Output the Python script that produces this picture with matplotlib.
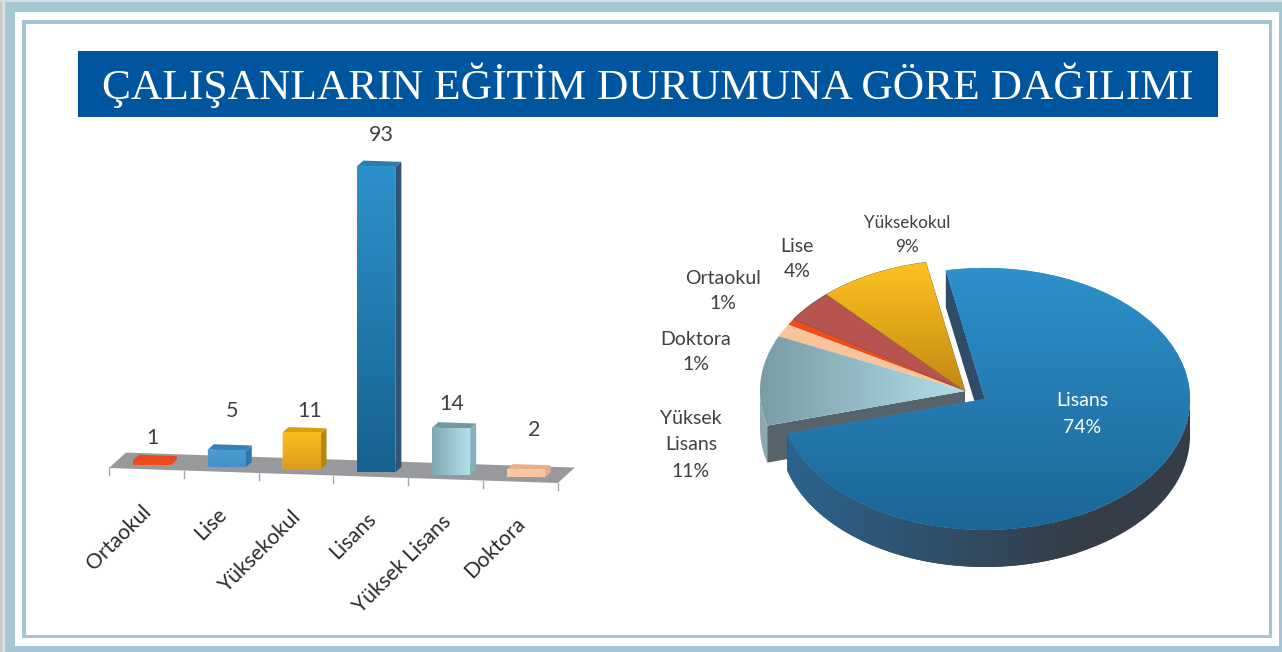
#!/usr/bin/env python3
import numpy as np
import matplotlib
matplotlib.use("Agg")
import matplotlib.pyplot as plt
from matplotlib.colors import LinearSegmentedColormap
from matplotlib.patches import Polygon, Rectangle
from matplotlib.transforms import Affine2D

W, H = 1282, 652

title = "ÇALIŞANLARIN EĞİTİM DURUMUNA GÖRE DAĞILIMI"
categories = ["Ortaokul", "Lise", "Yüksekokul", "Lisans", "Yüksek Lisans", "Doktora"]
counts = [1, 5, 11, 93, 14, 2]
pie_texts = ["Ortaokul\n1%", "Lise\n4%", "Yüksekokul\n9%", "Lisans\n74%",
             "Yüksek\nLisans\n11%", "Doktora\n1%"]

FONT = "Lato"
TEXT = "#404040"
BAND = "#a5c6d3"

# front gradient (start, end, direction), top face, side face
bar_styles = [
    ("#f04c1c", "#f04c1c", "v", "#e8481e", "#e8481e"),
    ("#4f9fd4", "#4090c6", "v", "#3680b5", "#2f78ad"),
    ("#ffc821", "#d8941a", "v", "#d8a010", "#b8860f"),
    ("#2f93cf", "#15608f", "v", "#2b7cb0", "#2f5573"),
    ("#7fa8b2", "#b2e0ea", "h", "#6f9aa5", "#86b1bc"),
    ("#fbc6a0", "#fbc6a0", "v", "#e8b088", "#e5ae86"),
]
# nudges of the value labels from the bar top, in pixels
label_dx = [0, 5, 8, 5, 1, 8]
label_dy = [23, 39, 22, 32, 24, 40]

pie_colors = ["#f04c1c", "#b85450", "#ffc41f", "#2f92cf", "#b5e1ec", "#f9c49c"]
pie_label_xy = [(723, 291), (797, 259), (907, 235), (1082, 414), (691, 445), (696, 352)]
pie_label_size = [14, 14, 12.3, 14, 14, 14]
pie_label_spacing = [1.6, 1.6, 1.55, 1.65, 1.65, 1.6]


def pixel_axes(fig, left, top, right, bottom):
    ax = fig.add_axes([left / W, 1 - bottom / H, (right - left) / W, (bottom - top) / H])
    ax.axis("off")
    return ax


def gradient(ax, extent, c0, c1, direction, clip, zorder):
    cmap = LinearSegmentedColormap.from_list("g", [c0, c1])
    ramp = np.linspace(0, 1, 128)
    ramp = ramp[:, None] if direction == "v" else ramp[None, :]
    # extent is x0, x1, bottom, top with row 0 at the top, so c0 is the top or left end
    im = ax.imshow(ramp, cmap=cmap, extent=extent, origin="upper", aspect="auto",
                   zorder=zorder, interpolation="bilinear")
    im.set_clip_path(clip)
    return im


def draw_frame(fig):
    ax = pixel_axes(fig, 0, 0, W, H)
    ax.set_xlim(0, W)
    ax.set_ylim(H, 0)
    shade = LinearSegmentedColormap.from_list("s", ["#c4c4c4", "#e6e6e6"])
    ax.imshow(np.linspace(0, 1, 32)[None, :], cmap=shade, extent=(0, 5, H, 0), aspect="auto")
    ax.add_patch(Rectangle((0, 0), W, 2, color="#d5dde0", lw=0))
    # outer band, white gap, inner line, white page
    ax.add_patch(Rectangle((5, 2), W - 5, H - 2, color=BAND, lw=0))
    ax.add_patch(Rectangle((15, 12), 1264, 634, color="white", lw=0))
    ax.add_patch(Rectangle((22, 20), 1250, 618, color=BAND, lw=0))
    ax.add_patch(Rectangle((26, 24), 1243, 611, color="white", lw=0))
    ax.add_patch(Rectangle((78, 51), 1140, 66, color="#00559f", lw=0))
    ax.set_xlim(0, W)
    ax.set_ylim(H, 0)
    ax.text(648, 85, title, color="white", fontsize=31.3, family="Liberation Serif",
            ha="center", va="center")


def draw_bars(fig):
    left, top, right, bottom = 60, 100, 640, 620
    ax = pixel_axes(fig, left, top, right, bottom)
    per_cat, per_unit = 74.8, 3.28
    ax.set_xlim((left - 109) / per_cat - 0.5, (right - 109) / per_cat - 0.5)
    ax.set_ylim((468 - bottom) / per_unit, (468 - top) / per_unit)
    ax.set_autoscale_on(False)

    slope = 2.5 / per_unit
    skew = Affine2D().from_values(1, -slope, 0, 1, 0, -slope * 0.5) + ax.transData
    # one unit of depth runs 17 px right and 16 px up
    depth_x, depth_y = 17 / per_cat, 16 / per_unit

    def at_depth(x, v, d):
        return (x + d * depth_x, v + d * depth_y)

    n = len(categories)
    floor = [at_depth(-0.5, 0, 0), at_depth(n - 0.5, 0, 0),
             at_depth(n - 0.5, 0, 1), at_depth(-0.5, 0, 1)]
    ax.add_patch(Polygon(floor, color="#98999c", lw=0, transform=skew, zorder=1))
    for i in range(n + 1):
        ax.plot([i - 0.5, i - 0.5], [0, -7 / per_unit], color="#a8a8a8", lw=1,
                transform=skew, zorder=1)

    width = 38 / per_cat
    near, far = 0.33, 0.68
    for i, (name, v) in enumerate(zip(categories, counts)):
        c0, c1, direction, c_top, c_side = bar_styles[i]
        x0, v0 = at_depth(i - width / 2, 0, near)
        x1 = x0 + width
        v1 = v0 + v
        rect = ax.bar(x0, v, width, bottom=v0, align="edge", color=c0, lw=0,
                      transform=skew, zorder=3)[0]
        shift = slope * (i + 1)
        gradient(ax, (x0, x1, v0 - shift - 2, v1 + 1), c0, c1, direction, rect, 3.1)

        d = far - near
        top_face = [(x0, v1), (x1, v1), (x1 + d * depth_x, v1 + d * depth_y),
                    (x0 + d * depth_x, v1 + d * depth_y)]
        side_face = [(x1, v0), (x1, v1), (x1 + d * depth_x, v1 + d * depth_y),
                     (x1 + d * depth_x, v0 + d * depth_y)]
        ax.add_patch(Polygon(top_face, color=c_top, lw=0, transform=skew, zorder=3))
        ax.add_patch(Polygon(side_face, color=c_side, lw=0, transform=skew, zorder=3))

        ax.annotate(str(v), xy=((x0 + x1) / 2, v1), xycoords=skew,
                    xytext=(label_dx[i], label_dy[i]), textcoords="offset pixels",
                    ha="center", va="center", fontsize=15.5, family=FONT, color=TEXT, zorder=5)
        ax.annotate(name, xy=(i, 0), xycoords=skew, xytext=(2, -39),
                    textcoords="offset pixels", ha="right", va="center", rotation=45,
                    rotation_mode="anchor", fontsize=15.2, family=FONT, color="#2b2b2b", zorder=5)


def draw_pie(fig):
    left, top, right, bottom = 640, 180, 1240, 600
    cx, cy, rx, ry = 965, 391, 205, 131
    ax = pixel_axes(fig, left, top, right, bottom)
    lisans = categories.index("Lisans")
    explode = [0.115 if i == lisans else 0 for i in range(len(counts))]
    wedges, _ = ax.pie(counts, explode=explode, startangle=149.6, counterclock=False,
                       colors=pie_colors, wedgeprops={"linewidth": 0})
    ax.set_aspect("auto")
    ax.set_xlim((left - cx) / rx, (right - cx) / rx)
    ax.set_ylim((cy - bottom) / ry, (cy - top) / ry)
    ax.set_autoscale_on(False)
    depth = 37 / ry

    def arc(w, a0, a1):
        t = np.radians(np.linspace(a0, a1, 120))
        return np.column_stack([w.center[0] + w.r * np.cos(t), w.center[1] + w.r * np.sin(t)])

    def extruded(w, a0, a1):
        pts = arc(w, a0, a1)
        return np.vstack([pts, (pts - [0, depth])[::-1]])

    # Yüksek Lisans: outer rim and the cut face under its lower edge
    w = wedges[categories.index("Yüksek Lisans")]
    ax.add_patch(Polygon(extruded(w, -180, w.theta2), color="#8ea9b0", lw=0, zorder=0.5))
    end = arc(w, w.theta2, w.theta2)[0]
    face = [w.center, end, end - [0, depth], np.array(w.center) - [0, depth]]
    ax.add_patch(Polygon(face, color="#56636a", lw=0, zorder=0.6))

    for w in wedges:
        w.set_zorder(1)
    for name, c0, c1, direction, box in [
        ("Yüksekokul", "#ffc41f", "#c08412", "v", (-1.0, 0.1, -0.05, 1.0)),
        ("Yüksek Lisans", "#789ba4", "#b5e1ec", "h", (-1.02, 0.05, -0.5, 0.6)),
    ]:
        w = wedges[categories.index(name)]
        gradient(ax, box, c0, c1, direction, w, 1.1)
    wedges[categories.index("Lise")].set(edgecolor="#8a4a3d", linewidth=0.6)
    wedges[categories.index("Yüksekokul")].set(edgecolor="#7a7040", linewidth=0.6)

    # Lisans: back cut face, front rim, then the top surface
    w = wedges[lisans]
    back = arc(w, w.theta2, w.theta2)[0]
    face = [w.center, back, back - [0, depth], np.array(w.center) - [0, depth]]
    ax.add_patch(Polygon(face, color="#2f4d68", lw=0, zorder=2))
    rim = Polygon(extruded(w, w.theta1, 0), color="#343d48", lw=0, zorder=2.1)
    ax.add_patch(rim)
    gradient(ax, (w.center[0] - 1.02, w.center[0] + 0.45, -1.4, 0.2),
             "#2b6490", "#343d48", "h", rim, 2.2)
    w.set_zorder(3)
    gradient(ax, (-1.0, 1.2, -1.15, 1.1), "#2f94d0", "#1a6494", "v", w, 3.1)
    return ax


def draw_pie_labels(fig):
    ax = pixel_axes(fig, 0, 0, W, H)
    ax.set_xlim(0, W)
    ax.set_ylim(H, 0)
    for text, (x, y), size, spacing in zip(pie_texts, pie_label_xy, pie_label_size, pie_label_spacing):
        color = "white" if text.startswith("Lisans") else TEXT
        ax.text(x, y, text, ha="center", va="center", fontsize=size, family=FONT,
                color=color, linespacing=spacing, zorder=10)


def main():
    fig = plt.figure(figsize=(W / 100, H / 100), dpi=100, facecolor="white")
    draw_frame(fig)
    draw_bars(fig)
    draw_pie(fig)
    draw_pie_labels(fig)
    fig.savefig("out.png", dpi=100)
    plt.close(fig)


if __name__ == '__main__':
    main()
